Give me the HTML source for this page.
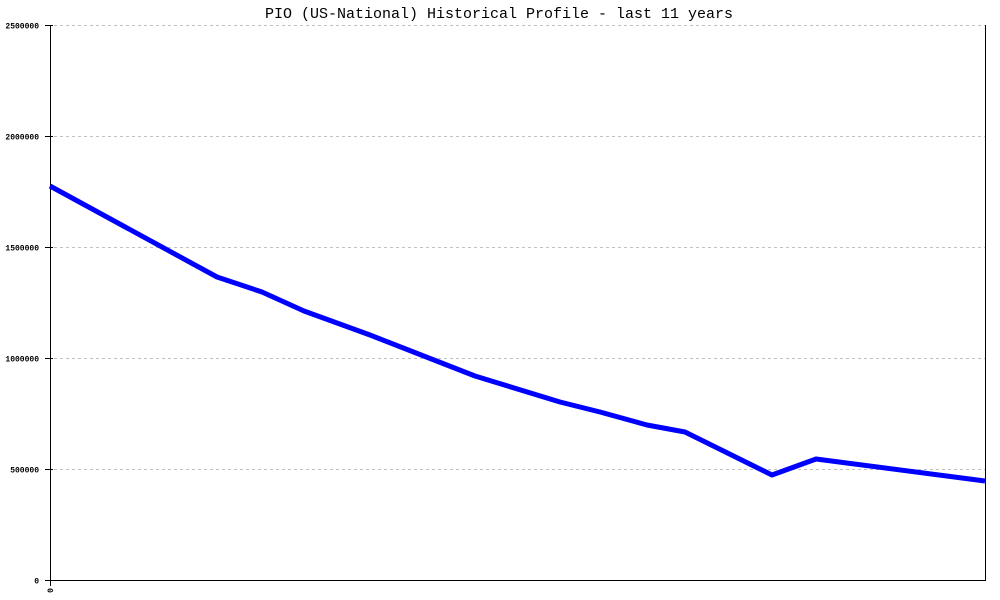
<!DOCTYPE html>
<html><head><meta charset="utf-8"><style>
html,body{margin:0;padding:0;background:#fff;}
svg{display:block;}
</style></head><body>
<svg width="1000" height="600" viewBox="0 0 1000 600" xmlns="http://www.w3.org/2000/svg">
<rect width="1000" height="600" fill="#fff"/>
<text x="499" y="18" text-anchor="middle" font-family="Liberation Mono, monospace" font-size="15" fill="#000">PIO (US-National) Historical Profile - last 11 years</text>
<g stroke="#c0c0c0" stroke-width="1" stroke-dasharray="3,3">
<line x1="54" y1="25.5" x2="985" y2="25.5"/>
<line x1="54" y1="136.5" x2="985" y2="136.5"/>
<line x1="54" y1="247.5" x2="985" y2="247.5"/>
<line x1="54" y1="358.5" x2="985" y2="358.5"/>
<line x1="54" y1="469.5" x2="985" y2="469.5"/>
</g>
<g stroke="#000" stroke-width="1">
<line x1="50.5" y1="25" x2="50.5" y2="586"/>
<line x1="50" y1="580.5" x2="986" y2="580.5"/>
<line x1="985.5" y1="25" x2="985.5" y2="581"/>
<line x1="45" y1="25.5" x2="53" y2="25.5"/>
<line x1="45" y1="136.5" x2="53" y2="136.5"/>
<line x1="45" y1="247.5" x2="53" y2="247.5"/>
<line x1="45" y1="358.5" x2="53" y2="358.5"/>
<line x1="45" y1="469.5" x2="53" y2="469.5"/>
<line x1="45" y1="580.5" x2="53" y2="580.5"/>
</g>
<g font-family="Liberation Mono, monospace" font-size="8" font-weight="bold" fill="#000" text-anchor="end">
<text x="39" y="28.5">2500000</text>
<text x="39" y="139.5">2000000</text>
<text x="39" y="250.5">1500000</text>
<text x="39" y="361.5">1000000</text>
<text x="39" y="472.5">500000</text>
<text x="39" y="583.5">0</text>
</g>
<text transform="translate(53,588) rotate(-90)" font-family="Liberation Mono, monospace" font-size="8" font-weight="bold" fill="#000" text-anchor="end">0</text>
<polyline fill="none" stroke="#0000ff" stroke-width="5" stroke-linejoin="round" points="50,186 217,277 262,292 304,311 370,335 475,376 560,402 600,412 647,425 685,432 772,475 816,459 985,481"/>
</svg>
</body></html>
